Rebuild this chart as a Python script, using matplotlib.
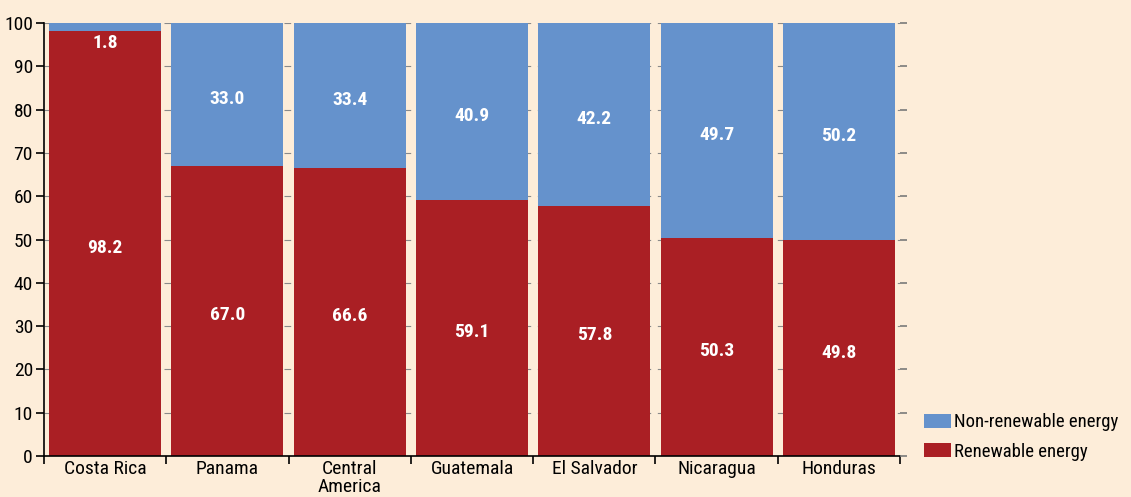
import matplotlib
matplotlib.use("Agg")
import matplotlib.pyplot as plt
from matplotlib.patches import Patch
from matplotlib import font_manager
import numpy as np

categories = ["Costa Rica", "Panama", "Central\nAmerica", "Guatemala",
              "El Salvador", "Nicaragua", "Honduras"]
renewable = [98.2, 67.0, 66.6, 59.1, 57.8, 50.3, 49.8]
non_renewable = [1.8, 33.0, 33.4, 40.9, 42.2, 49.7, 50.2]

BG = "#FDEDD9"
RED = "#AA1F24"
BLUE = "#6592CC"

# prefer a narrow face when one is installed
names = {f.name for f in font_manager.fontManager.ttflist}
narrow = [n for n in ["Liberation Sans Narrow", "DejaVu Sans Condensed",
                      "Roboto Condensed", "Open Sans Condensed"] if n in names]
plt.rcParams["font.family"] = narrow + ["Liberation Sans", "DejaVu Sans"]
plt.rcParams["font.stretch"] = "condensed"

fig = plt.figure(figsize=(11.31, 4.97), dpi=100, facecolor=BG)
ax = fig.add_axes([0.0389, 0.0825, 0.7569, 0.8712])
ax.set_facecolor(BG)

x = np.arange(len(categories))
w = 0.916
ax.bar(x, renewable, width=w, color=RED, zorder=2, linewidth=0)
ax.bar(x, non_renewable, width=w, bottom=renewable, color=BLUE, zorder=2,
       linewidth=0)

for xi, r, n in zip(x, renewable, non_renewable):
    ax.text(xi, r / 2 - 1.0, f"{r:.1f}", ha="center", va="center",
            color="white", fontsize=14, fontweight="bold", zorder=3)
    if n < 5:
        ny = r - 2.8
    else:
        ny = r + n / 2 - 1.0
    ax.text(xi, ny, f"{n:.1f}", ha="center", va="center",
            color="white", fontsize=14, fontweight="bold", zorder=3)

ax.set_xlim(-0.5, len(categories) - 0.5)
ax.set_ylim(0, 100)
ax.set_yticks(np.arange(0, 101, 10))
ax.tick_params(axis="y", labelsize=14, length=6, width=1.2, color="black",
               pad=2)
ax.yaxis.grid(True, linestyle=(0, (6, 6)), color="#8a8a8a", linewidth=0.8,
              zorder=0)
ax.set_axisbelow(True)

# short grey marks on the right edge
ax_r = ax.twinx()
ax_r.set_ylim(0, 100)
ax_r.set_yticks(np.arange(0, 101, 10))
ax_r.tick_params(axis="y", length=5, width=1.2, color="#7a7a7a",
                 labelright=False)
for s in ax_r.spines.values():
    s.set_visible(False)

ax.set_xticks(x)
ax.set_xticklabels(categories, fontsize=14, linespacing=1.0)
ax.tick_params(axis="x", length=0, pad=3)
ax.set_xticks(np.arange(-0.5, len(categories)), minor=True)
ax.tick_params(axis="x", which="minor", length=6, width=1.2, color="black")

for s in ["top", "right"]:
    ax.spines[s].set_visible(False)
for s in ["left", "bottom"]:
    ax.spines[s].set_linewidth(1.2)
    ax.spines[s].set_color("black")

handles = [Patch(facecolor=BLUE, label="Non-renewable energy"),
           Patch(facecolor=RED, label="Renewable energy")]
fig.legend(handles=handles, loc="lower left", bbox_to_anchor=(0.8105, 0.058),
           frameon=False, fontsize=13.5, handlelength=1.45, handleheight=0.75,
           handletextpad=0.15, labelspacing=0.6, borderaxespad=0)

fig.savefig("out.png", dpi=100, facecolor=BG)
